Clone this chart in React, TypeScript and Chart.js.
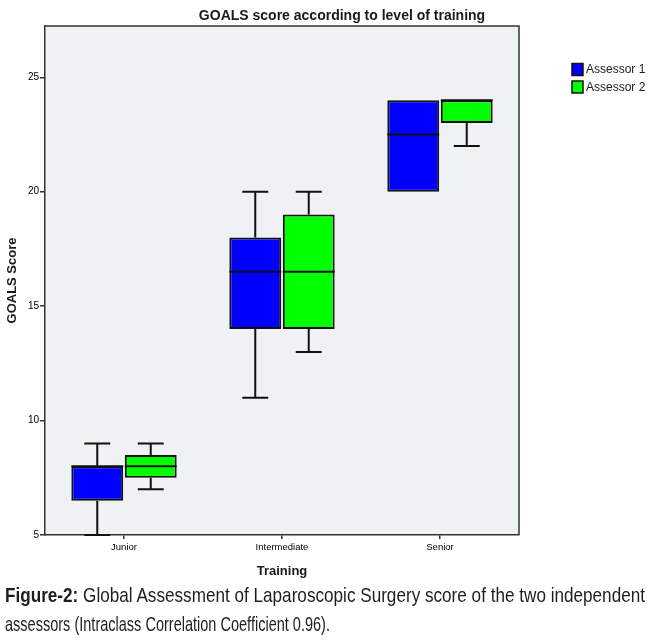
import React, { useEffect, useLayoutEffect, useRef, useState } from 'react';
import { Chart, registerables } from 'chart.js';

Chart.register(...registerables);

const categories = ['Junior', 'Intermediate', 'Senior'];
const seriesNames = ['Assessor 1', 'Assessor 2'];
const seriesColors = ['#0000ff', '#00ff00'];

// box plot stats
const a1Min = [5, 11, 20];
const a1Q1 = [6.5, 14, 20];
const a1Median = [8, 16.5, 22.5];
const a1Q3 = [8, 18, 24];
const a1Max = [9, 20, 24];

const a2Min = [7, 13, 22];
const a2Q1 = [7.5, 14, 23];
const a2Median = [8, 16.5, 24];
const a2Q3 = [8.5, 19, 24];
const a2Max = [9, 20, 24];

const yMin = 5;
const yMax = 27.24;
const yStep = 5;

const chartTitle = 'GOALS score according to level of training';
const yTitle = 'GOALS Score';
const xTitle = 'Training';

const FONT = '"Liberation Sans", Arial, sans-serif';
const INK = '#1a1a1a';

const stats = [
    { min: a1Min, q1: a1Q1, median: a1Median, q3: a1Q3, max: a1Max },
    { min: a2Min, q1: a2Q1, median: a2Median, q3: a2Q3, max: a2Max },
];

const boxPlugin = {
    id: 'boxWhiskers',
    beforeDraw(chart: any) {
        const { ctx, chartArea: a } = chart;
        ctx.save();
        ctx.fillStyle = '#eef2f2';
        ctx.fillRect(a.left, a.top, a.right - a.left, a.bottom - a.top);
        ctx.restore();
    },
    afterDatasetsDraw(chart: any) {
        const ctx = chart.ctx;
        const y = chart.scales.y;
        ctx.save();
        ctx.strokeStyle = '#111';
        ctx.lineWidth = 2;
        chart.data.datasets.forEach((_ds: any, d: number) => {
            const st = stats[d];
            const meta = chart.getDatasetMeta(d);
            meta.data.forEach((bar: any, i: number) => {
                const { x, width } = bar.getProps(['x', 'width'], true);
                const cap = width / 4;
                const yMed = y.getPixelForValue(st.median[i]);
                const yQ1 = y.getPixelForValue(st.q1[i]);
                const yQ3 = y.getPixelForValue(st.q3[i]);
                const yLo = y.getPixelForValue(st.min[i]);
                const yHi = y.getPixelForValue(st.max[i]);
                ctx.beginPath();
                // median
                ctx.moveTo(x - width / 2, yMed);
                ctx.lineTo(x + width / 2, yMed);
                // whiskers
                if (st.max[i] > st.q3[i]) {
                    ctx.moveTo(x, yQ3);
                    ctx.lineTo(x, yHi);
                    ctx.moveTo(x - cap, yHi);
                    ctx.lineTo(x + cap, yHi);
                }
                if (st.min[i] < st.q1[i]) {
                    ctx.moveTo(x, yQ1);
                    ctx.lineTo(x, yLo);
                    ctx.moveTo(x - cap, yLo);
                    ctx.lineTo(x + cap, yLo);
                }
                ctx.stroke();
            });
        });
        ctx.restore();
    },
    afterDraw(chart: any) {
        const { ctx, chartArea: a } = chart;
        ctx.save();
        // top and right frame
        ctx.strokeStyle = '#333';
        ctx.lineWidth = 1.5;
        ctx.beginPath();
        ctx.moveTo(a.left, a.top);
        ctx.lineTo(a.right, a.top);
        ctx.lineTo(a.right, a.bottom);
        ctx.stroke();

        // title
        ctx.fillStyle = INK;
        ctx.font = `bold 14px ${FONT}`;
        ctx.textAlign = 'center';
        ctx.textBaseline = 'alphabetic';
        ctx.fillText(chartTitle, 342, 19.5);

        // legend
        ctx.font = `12px ${FONT}`;
        ctx.textAlign = 'left';
        ctx.textBaseline = 'middle';
        chart.data.datasets.forEach((ds: any, d: number) => {
            const top = 63.5 + d * 17.5;
            ctx.fillStyle = ds.backgroundColor;
            ctx.fillRect(572, top, 11, 12);
            ctx.strokeStyle = '#111';
            ctx.lineWidth = 1.5;
            ctx.strokeRect(572, top, 11, 12);
            ctx.fillStyle = INK;
            ctx.fillText(ds.label, 586, top + 6.5);
        });
        ctx.restore();
    },
};

const BoxChart: React.FC = () => {
    const chartRef = useRef<HTMLCanvasElement | null>(null);

    useEffect(() => {
        if (!chartRef.current) return;
        const ctx = chartRef.current.getContext('2d');
        if (!ctx) return;

        const chart = new Chart(ctx, {
            type: 'bar',
            data: {
                labels: categories,
                datasets: stats.map((st, d) => ({
                    label: seriesNames[d],
                    data: st.q1.map((q, i) => [q, st.q3[i]]),
                    backgroundColor: seriesColors[d],
                    borderColor: '#111',
                    borderWidth: 2,
                    borderSkipped: false,
                    categoryPercentage: 0.677,
                    barPercentage: 0.97,
                })),
            },
            options: {
                responsive: false,
                animation: false,
                layout: { padding: { left: 0, right: 131, top: 26, bottom: 61 } },
                plugins: {
                    legend: { display: false },
                    title: { display: false },
                    tooltip: { enabled: false },
                },
                scales: {
                    x: {
                        afterFit: (scale: any) => {
                            scale.height = 45;
                        },
                        grid: {
                            offset: false,
                            drawOnChartArea: false,
                            tickLength: 4,
                            color: '#333',
                            lineWidth: 1.5,
                        },
                        border: { color: '#333', width: 1.5 },
                        ticks: {
                            color: '#000',
                            font: { family: FONT, size: 9.5 },
                            padding: 3,
                        },
                        title: {
                            display: true,
                            text: xTitle,
                            color: INK,
                            font: { family: FONT, size: 13, weight: 'bold' },
                            padding: { top: 0, bottom: 1 },
                        },
                    },
                    y: {
                        min: yMin,
                        max: yMax,
                        afterFit: (scale: any) => {
                            scale.width = 45;
                        },
                        grid: {
                            drawOnChartArea: false,
                            tickLength: 5,
                            color: '#333',
                            lineWidth: 1.5,
                        },
                        border: { color: '#333', width: 1.5 },
                        ticks: {
                            stepSize: yStep,
                            includeBounds: false,
                            color: '#000',
                            font: { family: FONT, size: 10 },
                            padding: 1,
                        },
                        title: {
                            display: true,
                            text: yTitle,
                            color: INK,
                            font: { family: FONT, size: 13, weight: 'bold' },
                            padding: { top: 5, bottom: 0 },
                        },
                    },
                },
            },
            plugins: [boxPlugin],
        } as any);

        return () => {
            chart.destroy();
        };
    }, []);

    return <canvas ref={chartRef} width={650} height={641} style={{ position: 'absolute', left: 0, top: 0 }} />;
};

// one caption line, squeezed horizontally to the width it has in the figure
const CaptionLine: React.FC<{ top: number; target: number; children: React.ReactNode }> = ({ top, target, children }) => {
    const ref = useRef<HTMLSpanElement | null>(null);
    const [scale, setScale] = useState(1);

    useLayoutEffect(() => {
        if (ref.current) {
            const w = ref.current.getBoundingClientRect().width;
            if (w > 0) setScale(target / w);
        }
    }, [target]);

    return (
        <span
            ref={ref}
            style={{
                position: 'absolute',
                left: 5,
                top,
                whiteSpace: 'nowrap',
                transform: `scaleX(${scale})`,
                transformOrigin: '0 0',
                fontFamily: '"Liberation Sans Narrow", "Liberation Sans", Arial, sans-serif',
                fontSize: 21,
                lineHeight: '29px',
                color: '#1e1e1e',
            }}
        >
            {children}
        </span>
    );
};

export default function App() {
    return (
        <div style={{ position: 'absolute', left: 0, top: 0, width: 650, height: 641, background: '#fff', overflow: 'hidden' }}>
            <BoxChart />
            <CaptionLine top={580} target={640}>
                <b>Figure-2:</b> Global Assessment of Laparoscopic Surgery score of the two independent
            </CaptionLine>
            <CaptionLine top={609} target={325}>
                assessors (Intraclass Correlation Coefficient 0.96).
            </CaptionLine>
        </div>
    );
}
